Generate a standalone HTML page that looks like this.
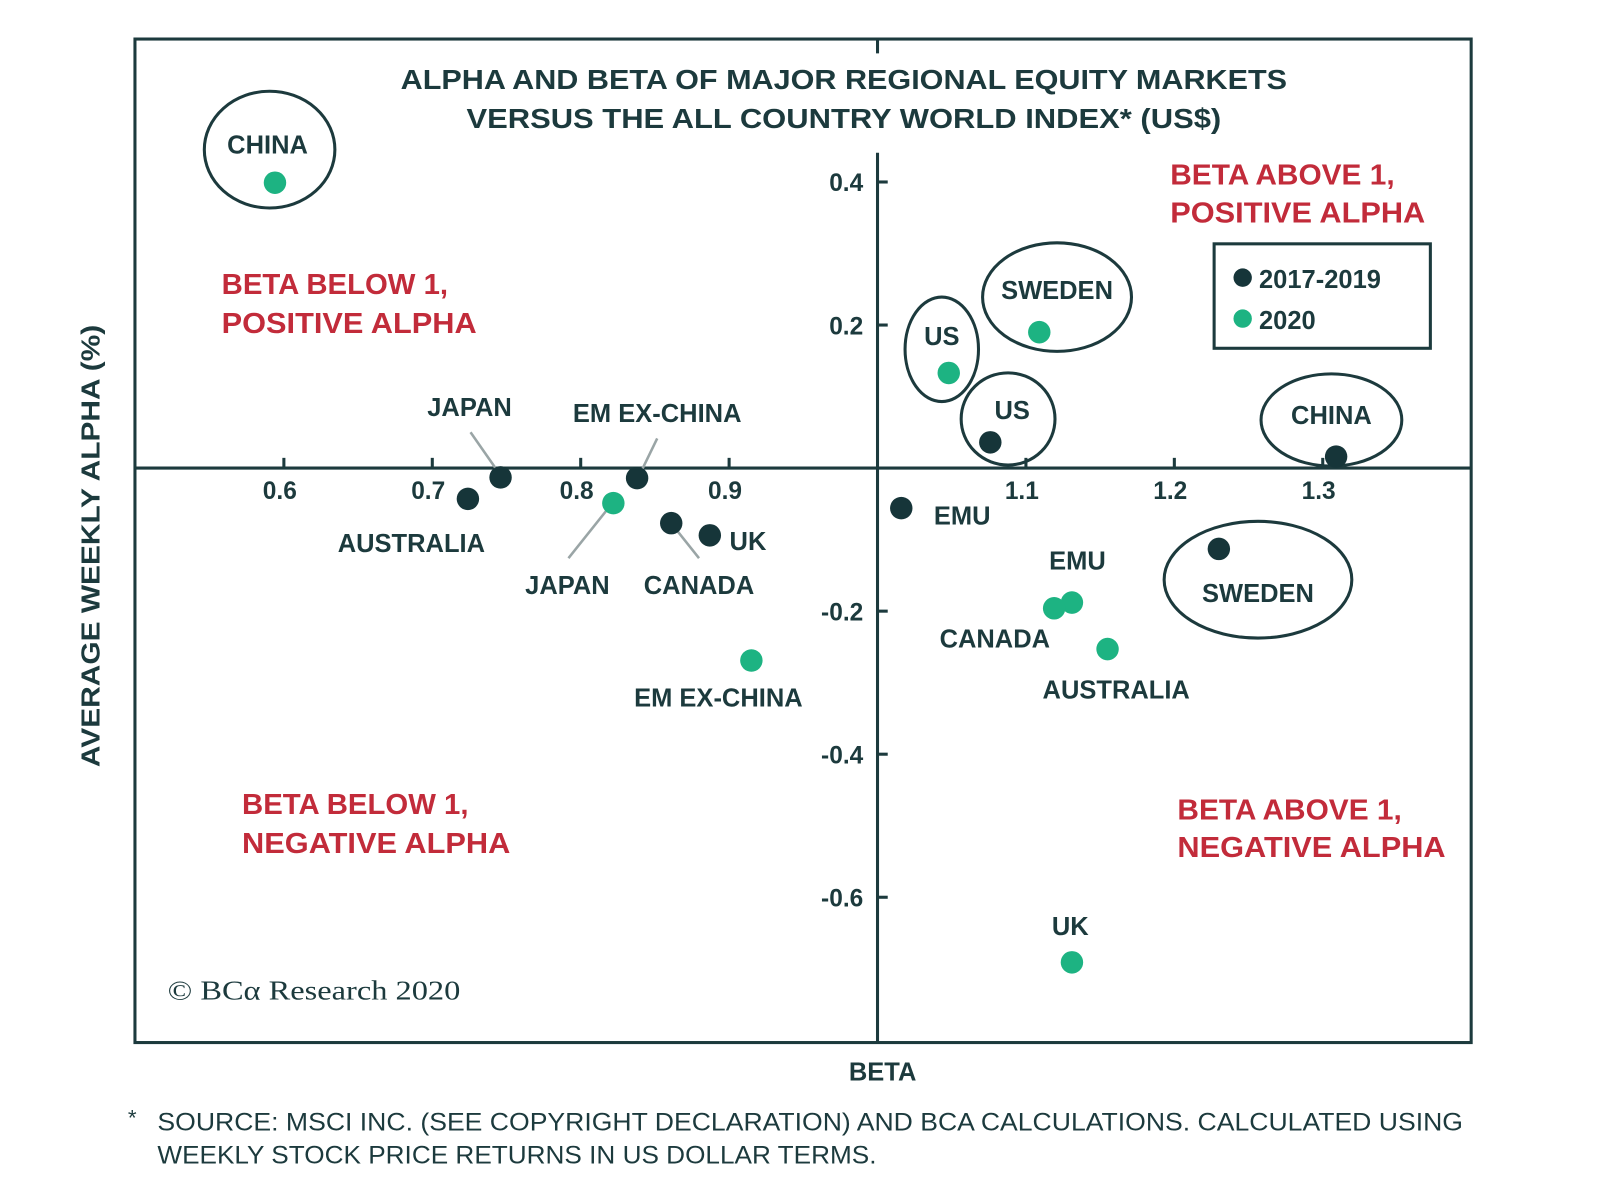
<!DOCTYPE html>
<html><head><meta charset="utf-8"><style>
html,body{margin:0;padding:0;background:#fff;}
svg{display:block;}
text{font-family:"Liberation Sans",sans-serif;}
.lb{font-size:25px;font-weight:bold;fill:#1c3a3d;}
.tk{font-size:24px;font-weight:bold;fill:#1c3a3d;}
.rd{font-size:28px;font-weight:bold;fill:#c22b3a;}
.tt{font-size:27px;font-weight:bold;fill:#1c3a3d;}
</style></head><body>
<svg id="chart" width="1600" height="1191" viewBox="0 0 1600 1191" xmlns="http://www.w3.org/2000/svg">
<g id="root" transform="matrix(1.02 0 0 1.024 -0.7 -0.9)">
<rect x="133" y="39" width="1310" height="980" fill="none" stroke="#1c3a3d" stroke-width="3"/>
<text class="tt" x="828" y="88" text-anchor="middle" textLength="869" lengthAdjust="spacingAndGlyphs">ALPHA AND BETA OF MAJOR REGIONAL EQUITY MARKETS</text>
<text class="tt" x="828" y="126" text-anchor="middle" textLength="740" lengthAdjust="spacingAndGlyphs">VERSUS THE ALL COUNTRY WORLD INDEX* (US$)</text>
<g id="axes"></g>
<g>
<text class="rd" x="218" y="288" textLength="222" lengthAdjust="spacingAndGlyphs">BETA BELOW 1,</text>
<text class="rd" x="218" y="326" textLength="250" lengthAdjust="spacingAndGlyphs">POSITIVE ALPHA</text>
<text class="rd" x="1148" y="181" textLength="220" lengthAdjust="spacingAndGlyphs">BETA ABOVE 1,</text>
<text class="rd" x="1148" y="218" textLength="250" lengthAdjust="spacingAndGlyphs">POSITIVE ALPHA</text>
<text class="rd" x="238" y="796" textLength="222" lengthAdjust="spacingAndGlyphs">BETA BELOW 1,</text>
<text class="rd" x="238" y="834" textLength="263" lengthAdjust="spacingAndGlyphs">NEGATIVE ALPHA</text>
<text class="rd" x="1155" y="801" textLength="220" lengthAdjust="spacingAndGlyphs">BETA ABOVE 1,</text>
<text class="rd" x="1155" y="838" textLength="263" lengthAdjust="spacingAndGlyphs">NEGATIVE ALPHA</text>
</g>
<g fill="none" stroke="#1c3a3d" stroke-width="3">
<ellipse cx="265" cy="147" rx="64" ry="57"/>
<ellipse cx="924" cy="342" rx="36" ry="51"/>
<ellipse cx="1037" cy="291" rx="73" ry="53"/>
<ellipse cx="989" cy="410" rx="46" ry="45"/>
<ellipse cx="1306" cy="411" rx="69" ry="45"/>
<ellipse cx="1234" cy="567" rx="92" ry="57"/>
</g>
<g stroke="#9aa5a6" stroke-width="2.5">
<line x1="462" y1="423" x2="490" y2="463"/>
<line x1="645" y1="429" x2="628" y2="464"/>
<line x1="558" y1="546" x2="598" y2="496"/>
<line x1="686" y1="546" x2="662" y2="516"/>
</g>
<g>
<text class="lb" x="461" y="407" text-anchor="middle">JAPAN</text>
<text class="lb" x="645" y="413" text-anchor="middle">EM EX-CHINA</text>
<text class="lb" x="404" y="540" text-anchor="middle">AUSTRALIA</text>
<text class="lb" x="734" y="538" text-anchor="middle">UK</text>
<text class="lb" x="557" y="581" text-anchor="middle">JAPAN</text>
<text class="lb" x="686" y="581" text-anchor="middle">CANADA</text>
<text class="lb" x="705" y="691" text-anchor="middle">EM EX-CHINA</text>
<text class="lb" x="944" y="513" text-anchor="middle">EMU</text>
<text class="lb" x="1057" y="557" text-anchor="middle">EMU</text>
<text class="lb" x="976" y="633" text-anchor="middle">CANADA</text>
<text class="lb" x="1095" y="683" text-anchor="middle">AUSTRALIA</text>
<text class="lb" x="1050" y="914" text-anchor="middle">UK</text>
<text class="lb" x="924" y="338" text-anchor="middle">US</text>
<text class="lb" x="1037" y="293" text-anchor="middle">SWEDEN</text>
<text class="lb" x="993" y="410" text-anchor="middle">US</text>
<text class="lb" x="1306" y="415" text-anchor="middle">CHINA</text>
<text class="lb" x="1234" y="589" text-anchor="middle">SWEDEN</text>
<text class="lb" x="263" y="151" text-anchor="middle">CHINA</text>
</g>
<g id="marks"></g>
<g>
<rect x="1191" y="239" width="212" height="102" fill="#fff" stroke="#1c3a3d" stroke-width="3"/>
<circle cx="1219" cy="272" r="9" fill="#163539"/>
<text class="lb" x="1235" y="282">2017-2019</text>
<circle cx="1219" cy="312" r="9" fill="#1db382"/>
<text class="lb" x="1235" y="322">2020</text>
</g>
<text x="165" y="977" style="font-family:'Liberation Serif',serif;font-size:27px;" fill="#1c3a3d" textLength="287" lengthAdjust="spacingAndGlyphs">© BCα Research 2020</text>
<text class="lb" x="866" y="1056" text-anchor="middle" font-size="27">BETA</text>
<text class="lb" transform="translate(98 534) rotate(-90)" text-anchor="middle" font-size="27" textLength="432" lengthAdjust="spacingAndGlyphs">AVERAGE WEEKLY ALPHA (%)</text>
<text x="126" y="1100" font-size="22" fill="#1c3a3d">*</text>
<text x="155" y="1105" font-size="24" fill="#1c3a3d" textLength="1280" lengthAdjust="spacingAndGlyphs">SOURCE: MSCI INC. (SEE COPYRIGHT DECLARATION) AND BCA CALCULATIONS. CALCULATED USING</text>
<text x="155" y="1137" font-size="24" fill="#1c3a3d" textLength="705" lengthAdjust="spacingAndGlyphs">WEEKLY STOCK PRICE RETURNS IN US DOLLAR TERMS.</text>
</g>
</svg>
<script>
const xTicks = [0.6, 0.7, 0.8, 0.9, 1.1, 1.2, 1.3];
const xTickLabels = ["0.6", "0.7", "0.8", "0.9", "1.1", "1.2", "1.3"];
const yTicks = [0.4, 0.2, -0.2, -0.4, -0.6];
const yTickLabels = ["0.4", "0.2", "-0.2", "-0.4", "-0.6"];
const markets1719 = ["Japan","Australia","EM ex-China","Canada","UK","EMU","US","China","Sweden"];
const beta1719 = [0.746, 0.724, 0.838, 0.861, 0.887, 1.016, 1.076, 1.309, 1.230];
const alpha1719 = [-0.013, -0.043, -0.014, -0.077, -0.094, -0.056, 0.036, 0.016, -0.113];
const markets2020 = ["China","Japan","EM ex-China","US","Sweden","EMU","Canada","Australia","UK"];
const beta2020 = [0.594, 0.822, 0.915, 1.048, 1.109, 1.131, 1.119, 1.155, 1.131];
const alpha2020 = [0.399, -0.049, -0.269, 0.133, 0.190, -0.188, -0.196, -0.253, -0.691];

const NS = "http://www.w3.org/2000/svg";
function xs(b){ return 861 + (b - 1) * 1455; }
function ys(a){ return 458 - a * 698.5; }
const axes = document.getElementById('axes');
function mk(tag, attrs, parent){ const e=document.createElementNS(NS,tag); for(const k in attrs) e.setAttribute(k,attrs[k]); parent.appendChild(e); return e; }
const col = "#1c3a3d";
mk('line',{x1:133,y1:ys(0),x2:1443,y2:ys(0),stroke:col,'stroke-width':3},axes);
mk('line',{x1:xs(1),y1:150,x2:xs(1),y2:1019,stroke:col,'stroke-width':3},axes);
mk('line',{x1:xs(1),y1:39,x2:xs(1),y2:53,stroke:col,'stroke-width':3},axes);
xTicks.forEach((t,i)=>{
  const l = mk('line',{x1:xs(t),y1:ys(0)-10,x2:xs(t),y2:ys(0),stroke:col,'stroke-width':3},axes);
  
  
  const tx = mk('text',{x:xs(t)-4,y:ys(0)+30,'text-anchor':'middle',class:'tk'},axes);
  tx.textContent = xTickLabels[i];
  
  
});
yTicks.forEach((t,i)=>{
  const l = mk('line',{x1:xs(1),y1:ys(t),x2:xs(1)+10,y2:ys(t),stroke:col,'stroke-width':3},axes);
  
  
  const tx = mk('text',{x:xs(1)-14,y:ys(t)+9,'text-anchor':'end',class:'tk'},axes);
  tx.textContent = yTickLabels[i];
  
  
});
const marks = document.getElementById('marks');
beta1719.forEach((b,i)=>{
  const c = mk('circle',{cx:xs(b),cy:ys(alpha1719[i]),r:11,fill:'#163539'},marks);
  
  
});
beta2020.forEach((b,i)=>{
  const c = mk('circle',{cx:xs(b),cy:ys(alpha2020[i]),r:11,fill:'#1db382'},marks);
  
  
});
</script>
</body></html>
